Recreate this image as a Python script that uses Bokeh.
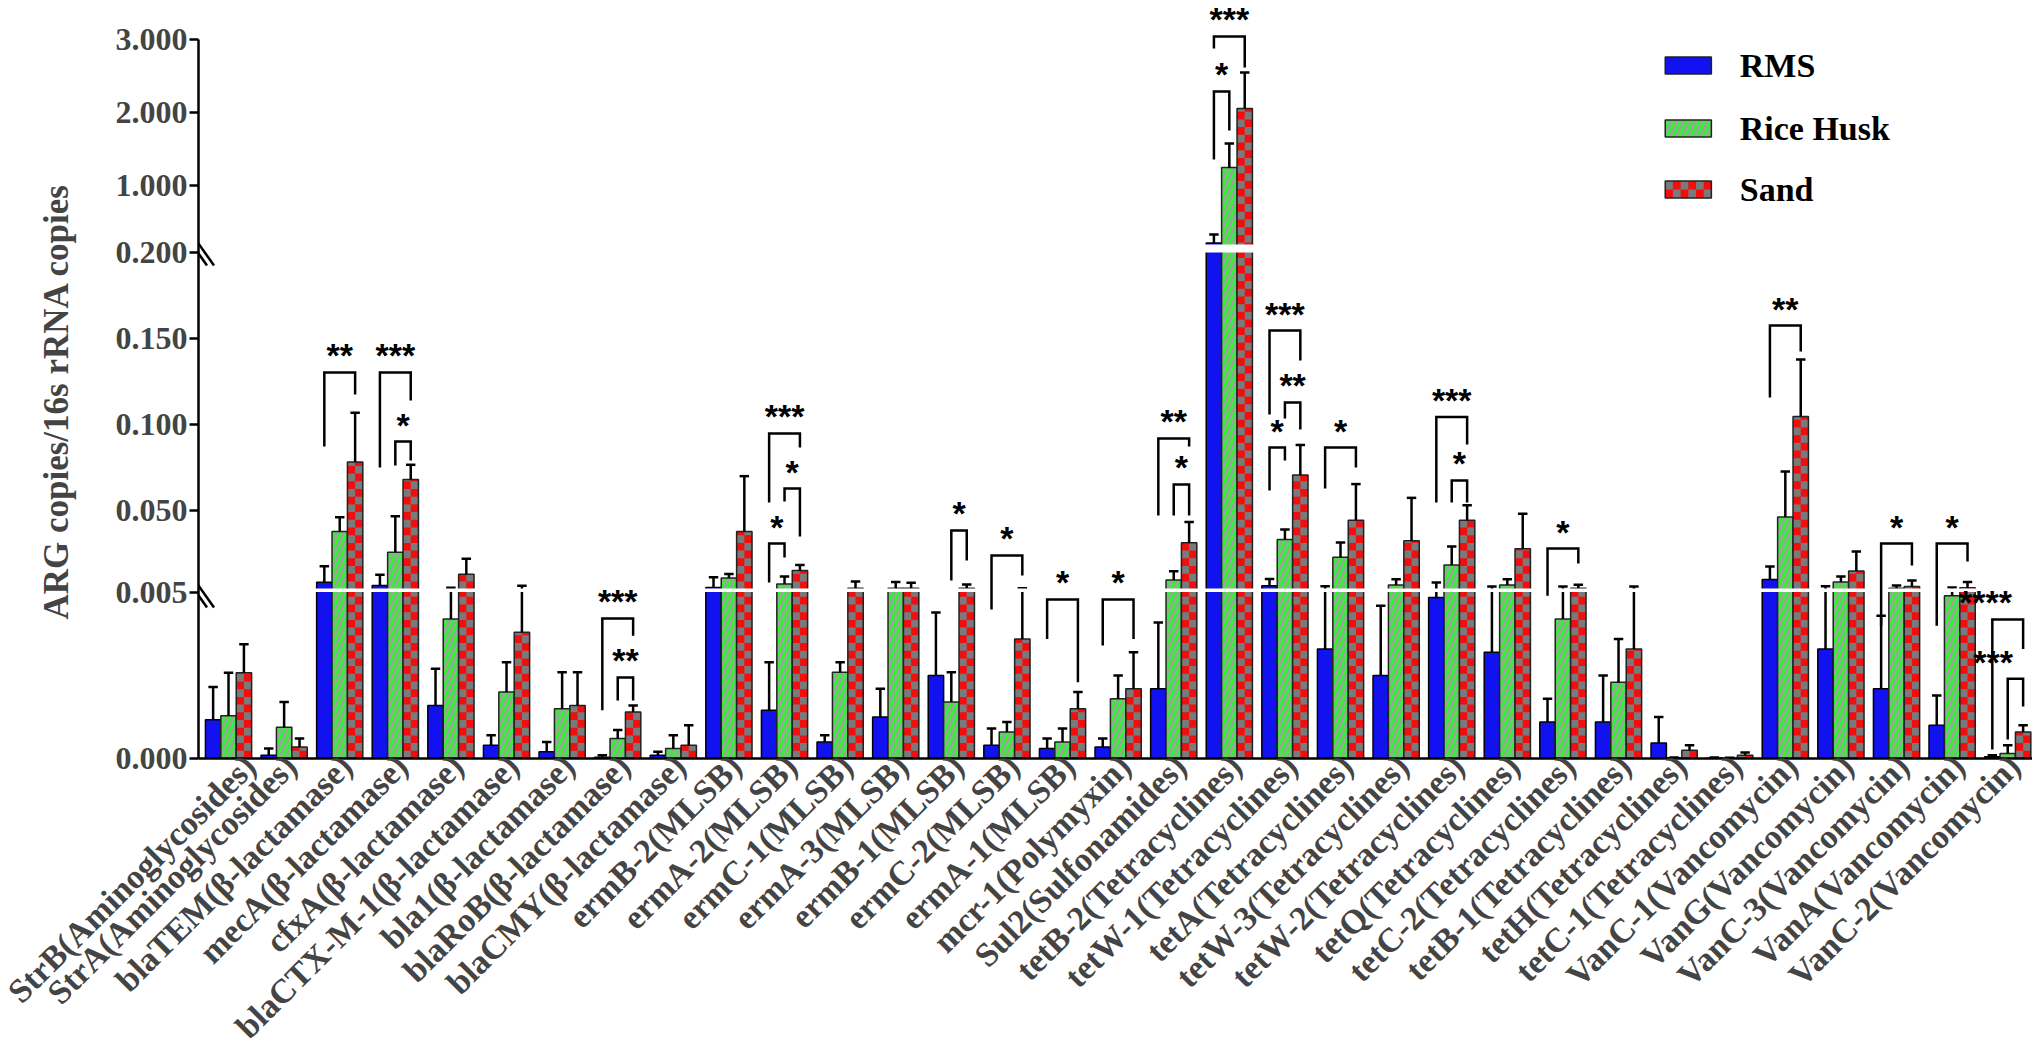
import math
from bokeh.plotting import figure
from bokeh.models import Range1d, FixedTicker, Arrow
from bokeh.embed import file_html
from bokeh.resources import INLINE
from bokeh.core.properties import value

# ---------------- data ----------------
genes = [
    "StrB(Aminoglycosides)", "StrA(Aminoglycosides)", "blaTEM(β-lactamase)", "mecA(β-lactamase)",
    "cfxA(β-lactamase)", "blaCTX-M-1(β-lactamase)", "bla1(β-lactamase)", "blaRoB(β-lactamase)",
    "blaCMY(β-lactamase)", "ermB-2(MLSB)", "ermA-2(MLSB)", "ermC-1(MLSB)", "ermA-3(MLSB)",
    "ermB-1(MLSB)", "ermC-2(MLSB)", "ermA-1(MLSB)", "mcr-1(Polymyxin)", "Sul2(Sulfonamides)",
    "tetB-2(Tetracyclines)", "tetW-1(Tetracyclines)", "tetA(Tetracyclines)", "tetW-3(Tetracyclines)",
    "tetW-2(Tetracyclines)", "tetQ(Tetracyclines)", "tetC-2(Tetracyclines)", "tetB-1(Tetracyclines)",
    "tetH(Tetracyclines)", "tetC-1(Tetracyclines)", "VanC-1(Vancomycin)", "VanG(Vancomycin)",
    "VanC-3(Vancomycin)", "VanA(Vancomycin)", "VanC-2(Vancomycin)",
]
series_names = ["RMS", "Rice Husk", "Sand"]

rms = [0.00117, 0.0001, 0.0086, 0.0068, 0.0016, 0.0004, 0.0002, 0.00004, 0.0001, 0.0056,
       0.00145, 0.0005, 0.00125, 0.0025, 0.0004, 0.0003, 0.00035, 0.0021, 0.22, 0.0066,
       0.0033, 0.0025, 0.00485, 0.0032, 0.0011, 0.0011, 0.00047, 0.00001, 0.0102, 0.0033,
       0.0021, 0.0010, 0.00005]
rms_upper = [0.00215, 0.0003, 0.0179, 0.013, 0.0027, 0.0007, 0.0005, 0.0001, 0.0002, 0.0115,
             0.0029, 0.0007, 0.0021, 0.0044, 0.0009, 0.0006, 0.0006, 0.0041, 0.337, 0.0105,
             0.0063, 0.0046, 0.0085, 0.0062, 0.0018, 0.0025, 0.00125, 0.00003, 0.0178, 0.0063,
             0.0043, 0.0019, 0.0001]
rice = [0.00129, 0.00094, 0.0381, 0.026, 0.0042, 0.0020, 0.0015, 0.0006, 0.0003, 0.0111,
        0.0076, 0.0026, 0.0052, 0.0017, 0.0008, 0.0005, 0.0018, 0.0099, 1.252, 0.0335,
        0.0232, 0.0070, 0.0187, 0.0070, 0.0042, 0.0023, 0.00002, 0.00001, 0.0465, 0.0087,
        0.0052, 0.0049, 0.00015]
rice_upper = [0.00258, 0.0017, 0.0463, 0.047, 0.0054, 0.0029, 0.0026, 0.00086, 0.0007, 0.0134,
              0.0119, 0.0029, 0.0087, 0.0026, 0.0011, 0.0009, 0.0025, 0.015, 1.58, 0.0393,
              0.0317, 0.0103, 0.0294, 0.0103, 0.0062, 0.0036, 0.00003, 0.00002, 0.0729, 0.0119,
              0.0067, 0.0056, 0.0004]
sand = [0.00258, 0.00035, 0.0784, 0.0683, 0.0132, 0.0038, 0.0016, 0.0014, 0.0004, 0.0381,
        0.0154, 0.0052, 0.0052, 0.0052, 0.0036, 0.0015, 0.0021, 0.0315, 2.058, 0.0708,
        0.0446, 0.0327, 0.0446, 0.028, 0.0052, 0.0033, 0.00025, 0.0001, 0.1048, 0.0152,
        0.0062, 0.0055, 0.0008]
sand_upper = [0.00344, 0.0006, 0.107, 0.0768, 0.0223, 0.0066, 0.0026, 0.0016, 0.001, 0.0702,
              0.0187, 0.0091, 0.0083, 0.0073, 0.0051, 0.0020, 0.0032, 0.0436, 2.55, 0.0883,
              0.0656, 0.0576, 0.0533, 0.0484, 0.0072, 0.0062, 0.0004, 0.00018, 0.1379, 0.0265,
              0.0096, 0.0087, 0.001]

tick_values = [0.0, 0.005, 0.05, 0.1, 0.15, 0.2, 1.0, 2.0, 3.0]
tick_labels = ["0.000", "0.005", "0.050", "0.100", "0.150", "0.200", "1.000", "2.000", "3.000"]

# significance brackets: (gene no., from series, to series, bracket level, left leg end, right leg end, stars)
sig_gene = [3, 4, 4, 8, 8, 11, 11, 11, 14, 15, 16, 17, 18, 18, 19, 19, 20, 20, 20, 21, 23, 23, 25, 29, 31, 32, 33, 33]
sig_from = [0, 0, 1, 0, 1, 0, 1, 0, 1, 0, 0, 0, 0, 1, 0, 0, 0, 1, 0, 0, 0, 1, 0, 0, 0, 0, 0, 1]
sig_to = [2, 2, 2, 2, 2, 2, 2, 1, 2, 2, 2, 2, 2, 2, 2, 1, 2, 2, 1, 2, 2, 2, 2, 2, 2, 2, 2, 2]
sig_level = [0.1304, 0.1304, 0.0903, 0.00422, 0.00244, 0.095, 0.063, 0.0311, 0.0387, 0.0242,
             0.00479, 0.00479, 0.0921, 0.0654, 3.042, 2.29, 0.1547, 0.113, 0.0868, 0.0868,
             0.1045, 0.0677, 0.0282, 0.1576, 0.0311, 0.0311, 0.00419, 0.0024]
sig_left = [0.0874, 0.0752, 0.0764, 0.00145, 0.00175, 0.0549, 0.0555, 0.0085, 0.0096, 0.00449,
            0.0036, 0.0034, 0.0474, 0.0474, 2.878, 1.361, 0.106, 0.1037, 0.0619, 0.063,
            0.0549, 0.0549, 0.0049, 0.1159, 0.004, 0.004, 0.00027, 0.00057]
sig_right = [0.1176, 0.1141, 0.0793, 0.0037, 0.00175, 0.0868, 0.0352, 0.023, 0.0212, 0.0125,
             0.0023, 0.0036, 0.0874, 0.0474, 2.618, 1.757, 0.1373, 0.0973, 0.0793, 0.0752,
             0.0886, 0.0549, 0.0195, 0.1426, 0.0183, 0.0207, 0.0033, 0.00157]
sig_text = ["**", "***", "*", "***", "**", "***", "*", "*", "*", "*", "*", "*", "**", "*",
            "***", "*", "***", "**", "*", "*", "***", "*", "*", "**", "*", "*", "****", "***"]
sig_text_dx = [0.0] * 26 + [-0.4, -0.4]   # star labels nudged left at the right edge

# ---------------- broken axis mapping ----------------
SEGMENTS = [  # value range -> screen px above the x axis
    (0.0, 0.005, 0.0, 166.0),
    (0.005, 0.2, 170.0, 506.0),
    (0.2, 3.0, 514.0, 719.0),
]


def tf(v):
    for lo, hi, plo, phi in SEGMENTS:
        if v <= hi:
            return plo + (v - lo) / (hi - lo) * (phi - plo)
    lo, hi, plo, phi = SEGMENTS[-1]
    return plo + (v - lo) / (hi - lo) * (phi - plo)


BLUE = "#1212F0"
GREEN = "#33F233"
RED = "#F00E0E"
CHECK = "#7a7a7a"
STRIPE = "#a0a0a0"
SERIF = "Liberation Serif"

LEFT = 198
FW, FH = 2032 - LEFT, 758
PXU = 55.6
X0 = 0.46
X1 = X0 + FW / PXU
px_unit = 1.0 / PXU

p = figure(frame_width=FW, frame_height=FH, x_range=Range1d(X0, X1), y_range=Range1d(0, FH),
           output_backend="svg", toolbar_location=None,
           min_border_left=LEFT, min_border_right=0, min_border_top=0, min_border_bottom=0)
p.outline_line_color = None
p.xgrid.visible = False
p.ygrid.visible = False

BW = 0.277
offsets = [-BW, 0.0, BW]
xs = list(range(1, len(genes) + 1))

# bars
p.vbar(x=[i + offsets[0] for i in xs], top=[tf(v) for v in rms], bottom=0, width=BW,
       fill_color=BLUE, line_color="black", line_width=1.5)
p.vbar(x=[i + offsets[1] for i in xs], top=[tf(v) for v in rice], bottom=0, width=BW,
       fill_color=GREEN, hatch_pattern="/", hatch_color=STRIPE, hatch_weight=2.5, hatch_scale=12,
       line_color="#222222", line_width=1.5)
p.vbar(x=[i + offsets[2] for i in xs], top=[tf(v) for v in sand], bottom=0, width=BW,
       fill_color=RED, line_color=None)
SQ = 7.7
cl, cr, cb, ct = [], [], [], []
for i, v in zip(xs, sand):
    top = tf(v)
    x0 = i + offsets[2] - BW / 2
    nrows = int(math.ceil(top / SQ))
    for row in range(nrows):
        y0 = row * SQ
        y1 = min(top, y0 + SQ)
        col = row % 2
        cl.append(x0 + col * BW / 2)
        cr.append(x0 + (col + 1) * BW / 2)
        cb.append(y0)
        ct.append(y1)
p.quad(left=cl, right=cr, bottom=cb, top=ct, fill_color=CHECK, line_color=None)
p.vbar(x=[i + offsets[2] for i in xs], top=[tf(v) for v in sand], bottom=0, width=BW,
       fill_color=None, line_color="#222222", line_width=1.5)

# error bars
CAP = 0.085
for k, (m, u) in enumerate([(rms, rms_upper), (rice, rice_upper), (sand, sand_upper)]):
    ex = [i + offsets[k] for i in xs]
    p.segment(x0=ex, y0=[tf(v) for v in m], x1=ex, y1=[tf(v) for v in u], line_color="black", line_width=2.5)
    p.segment(x0=[x - CAP for x in ex], y0=[tf(v) for v in u], x1=[x + CAP for x in ex], y1=[tf(v) for v in u],
              line_color="black", line_width=2.5)

# white breaks
p.quad(left=[X0, X0], right=[X1, X1], bottom=[166.6, 506.0], top=[170.0, 514.0],
       fill_color="white", line_color=None)

# significance brackets
bx, by, sx, sy = [], [], [], []
for g, a, b, lev, le, re_, dx in zip(sig_gene, sig_from, sig_to, sig_level, sig_left, sig_right, sig_text_dx):
    xl = g + offsets[a]
    xr = g + offsets[b]
    bx.append([xl, xl, xr, xr])
    by.append([tf(le), tf(lev), tf(lev), tf(re_)])
    sx.append((xl + xr) / 2 + dx)
    sy.append(tf(lev) + 17)
p.multi_line(xs=bx, ys=by, line_color="black", line_width=2.5, line_join="miter")
p.text(x=sx, y=sy, text=sig_text, text_font=value("Liberation Sans"), text_font_style="bold",
       text_font_size="34px", text_align="center", text_baseline="alphabetic", text_color="black")

# legend
leg_y = [693, 630, 569]
LX0, LX1, LH = 26.84, 27.67, 8.5
p.quad(left=[LX0], right=[LX1], bottom=[leg_y[0] - LH], top=[leg_y[0] + LH],
       fill_color=BLUE, line_color="#222222", line_width=1.5)
p.quad(left=[LX0], right=[LX1], bottom=[leg_y[1] - LH], top=[leg_y[1] + LH],
       fill_color=GREEN, hatch_pattern="/", hatch_color=STRIPE, hatch_weight=2.5, hatch_scale=12,
       line_color="#222222", line_width=1.5)
p.quad(left=[LX0], right=[LX1], bottom=[leg_y[2] - LH], top=[leg_y[2] + LH],
       fill_color=RED, line_color=None)
lcl, lcr, lcb, lct = [], [], [], []
ncol = 6
cw = (LX1 - LX0) / ncol
for r in range(2):
    for c in range(ncol):
        if (r + c) % 2 == 1:
            lcl.append(LX0 + c * cw)
            lcr.append(LX0 + (c + 1) * cw)
            lcb.append(leg_y[2] - LH + r * LH)
            lct.append(leg_y[2] - LH + (r + 1) * LH)
p.quad(left=lcl, right=lcr, bottom=lcb, top=lct, fill_color=CHECK, line_color=None)
p.quad(left=[LX0], right=[LX1], bottom=[leg_y[2] - LH], top=[leg_y[2] + LH],
       fill_color=None, line_color="#222222", line_width=1.5)
p.text(x=[28.18] * 3, y=leg_y, text=series_names, text_font=value(SERIF), text_font_style="bold",
       text_font_size="34px", text_align="left", text_baseline="middle", text_color="black")

# y axis
yticks = [int(round(tf(v))) for v in tick_values]
p.yaxis.ticker = FixedTicker(ticks=yticks)
p.yaxis.major_label_overrides = {t: lab for t, lab in zip(yticks, tick_labels)}
p.yaxis.bounds = (0, yticks[-1])
p.yaxis.minor_tick_line_color = None
p.yaxis.major_tick_out = 9
p.yaxis.major_tick_in = 0
p.yaxis.major_tick_line_width = 2.5
p.yaxis.axis_line_width = 2.5
p.yaxis.major_label_standoff = 2
p.yaxis.major_label_text_font = SERIF
p.yaxis.major_label_text_font_style = "bold"
p.yaxis.major_label_text_font_size = "32px"
p.yaxis.axis_label = "ARG copies/16s rRNA copies" + "\u00a0" * 5
p.yaxis.axis_label_text_font = SERIF
p.yaxis.axis_label_text_font_style = "bold"
p.yaxis.axis_label_text_font_size = "35px"
p.yaxis.axis_label_standoff = 37

# x axis (labels sit at the group, nudged right like the reference)
label_shift = 0.12
xticks = [round(i + label_shift, 4) for i in xs]
p.xaxis.ticker = FixedTicker(ticks=xticks)
p.xaxis.major_label_overrides = {t: g for t, g in zip(xticks, genes)}
p.xaxis.major_label_orientation = math.pi / 4
p.xaxis.major_tick_line_color = None
p.xaxis.major_tick_out = 0
p.xaxis.major_tick_in = 0
p.xaxis.minor_tick_line_color = None
p.xaxis.axis_line_width = 2.5
p.xaxis.major_label_standoff = 2
p.xaxis.major_label_text_font = SERIF
p.xaxis.major_label_text_font_style = "bold"
p.xaxis.major_label_text_font_size = "34px"

# axis break marks
for yc in [510.0, 168.0]:
    for dx in [-3.5, 3.5]:
        p.add_layout(Arrow(start=None, end=None,
                           x_start=X0 + (dx - 12) * px_unit, y_start=yc + 17,
                           x_end=X0 + (dx + 12) * px_unit, y_end=yc - 17,
                           line_color="black", line_width=2.5))

open("out.html", "w").write(file_html(p, INLINE, title="ARG copies"))
